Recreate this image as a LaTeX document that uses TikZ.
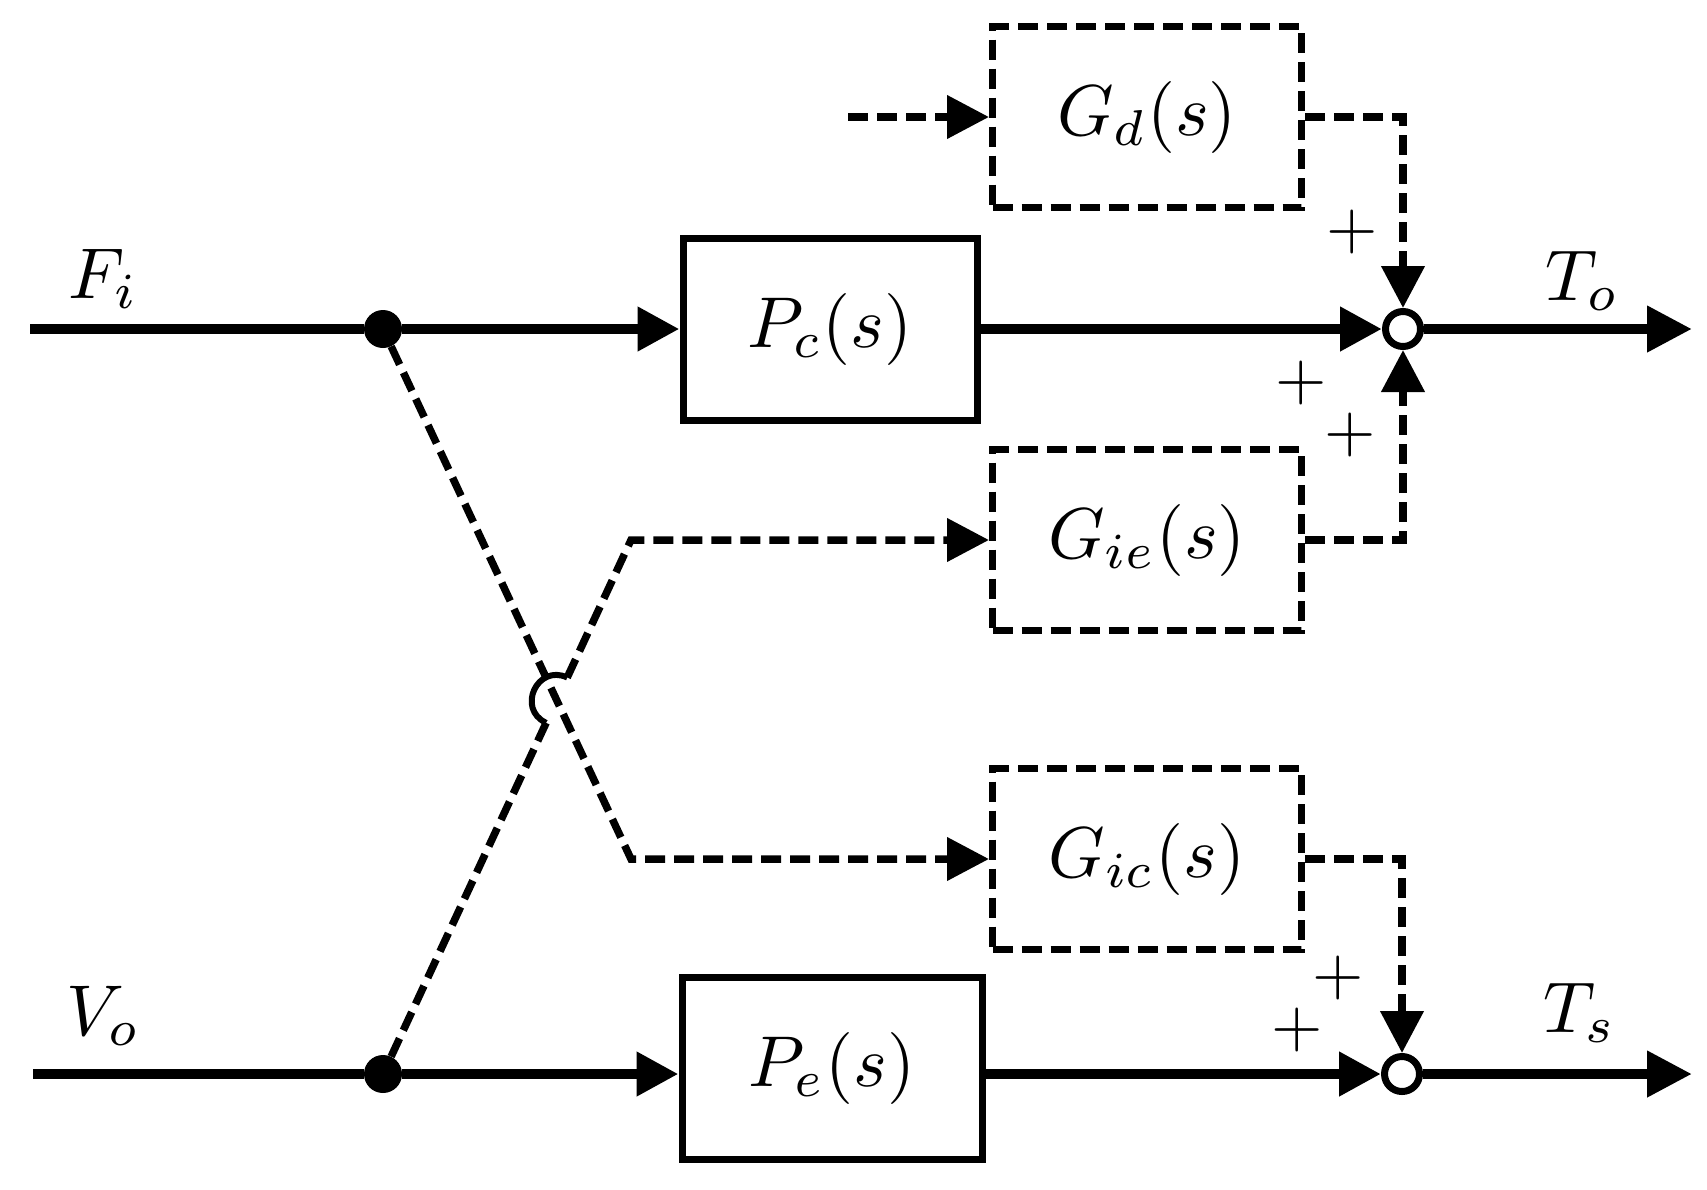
\documentclass[tikz,border=0pt]{standalone}
\usepackage{graphicx}
\usetikzlibrary{arrows.meta,calc}
\newcommand{\mymath}[1]{\scalebox{7.2}{$#1$}}
\newcommand{\myplus}{\scalebox{6.6}{$+$}}
\begin{document}
\begin{tikzpicture}[x=1pt,y=-1pt,
  sig/.style={line width=10.5pt},
  dsig/.style={line width=7.5pt, dash pattern=on 20pt off 9pt},
  tip/.style={-{Triangle[length=42pt,width=42pt]}},
  tipo/.style={-{Triangle[length=45pt,width=44pt]}},
  blk/.style={draw, line width=7pt, minimum width=294pt, minimum height=182pt, inner sep=0pt},
  dblk/.style={draw, line width=7pt, dash pattern=on 20pt off 9pt, minimum width=309pt, minimum height=181pt, inner sep=0pt},
  sumj/.style={circle, draw, line width=7pt, fill=white, minimum size=35pt, inner sep=0pt},
  junc/.style={circle, fill=black, minimum size=38pt, inner sep=0pt},
  lbl/.style={inner sep=0pt, anchor=base west},
  pl/.style={inner sep=0pt}
]
\fill[white] (0,0) rectangle (1707,1189);
\useasboundingbox (0,0) rectangle (1707,1189);

% nodes
\node[junc] (dT) at (383,329) {};
\node[junc] (dB) at (383,1074) {};
\coordinate (inF) at (30,329);
\coordinate (inV) at (33,1074);
\node[blk] (Pc) at (830,329) {\mymath{P_c(s)}};
\node[blk, minimum width=300pt] (Pe) at (832,1068) {\mymath{P_e(s)}};
\node[dblk] (Gd) at (1147,117) {\mymath{G_d(s)}};
\node[dblk] (Gie) at (1147,540) {\mymath{G_{ie}(s)}};
\node[dblk] (Gic) at (1147,859) {\mymath{G_{ic}(s)}};
\coordinate (outT) at (1692,329);
\coordinate (outB) at (1692,1074);
\coordinate (dIn) at (848,117);
\coordinate (cE) at (631,540);
\coordinate (cC) at (631,859);

% solid signal lines
\draw[sig] (inF) -- (dT);
\draw[sig,tip] (dT) -- (Pc);
\draw[sig] (inV) -- (dB);
\draw[sig,tip] (dB) -- (dB -| Pe.west);

% dashed lines
\draw[dsig,tip] (dIn) -- (Gd);
\draw[dsig,tip] (dT) -- (cC) -- (Gic.west);
\path (intersection of dT--cC and dB--cE) coordinate (X);
\coordinate (hA) at ($(X)!25pt!(dB)$);
\coordinate (hB) at ($(X)!25pt!(cE)$);
\draw[dsig] (dB) -- (hA);
\draw[dsig,tip] (hB) -- (cE) -- (Gie.west);
\draw[line width=6pt] (hA) .. controls ($(hA)!33pt!90:(hB)$) and ($(hB)!33pt!-90:(hA)$) .. (hB);

% summing junctions
\node[sumj] (sT) at (1403,329) {};
\node[sumj] (sB) at (1402,1074) {};
\draw[sig,tip] (Pc) -- (sT);
\draw[sig,tipo] (sT) -- (outT);
\draw[sig,tip] (Pe.east |- sB) -- (sB);
\draw[sig,tipo] (sB) -- (outB);
\draw[dsig,tip] (Gd.east) -| (sT);
\draw[dsig,tip] (Gie.east) -| (sT);
\draw[dsig,tip] (Gic.east) -| (sB);

% labels
\node[lbl] (Fi) at (68,298) {\mymath{F_i}};
\node[lbl] (Vo) at (66,1035) {\mymath{V_o}};
\node[lbl] (To) at (1545,300) {\mymath{T_o}};
\node[lbl] (Ts) at (1543,1032) {\mymath{T_s}};
\node[pl] (p1) at (1352,232) {\myplus};
\node[pl] (p2) at (1301,383) {\myplus};
\node[pl] (p3) at (1350,435) {\myplus};
\node[pl] (p4) at (1338,978) {\myplus};
\node[pl] (p5) at (1297,1030) {\myplus};
\end{tikzpicture}
\end{document}
